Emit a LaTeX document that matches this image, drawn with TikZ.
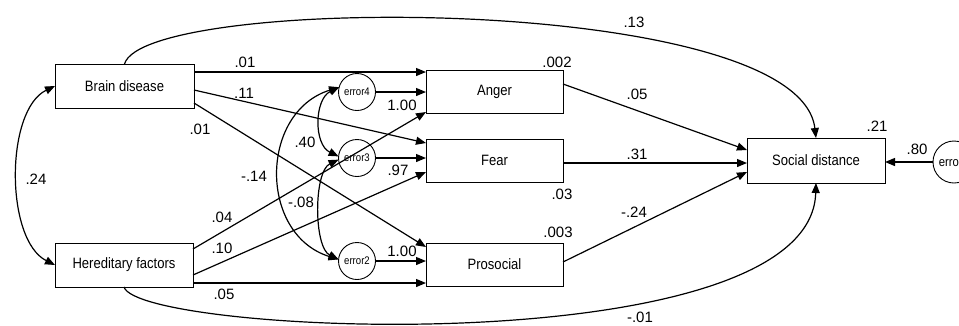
\documentclass[tikz,border=0pt]{standalone}
\usepackage{fontspec}
\setmainfont{Liberation Sans}
\newfontfamily\narrowfont[FakeStretch=0.87]{Liberation Sans}
\usetikzlibrary{arrows.meta}
\begin{document}
\begin{tikzpicture}[x=1pt,y=-1pt,
  box/.style={draw, line width=0.9pt, rectangle, inner sep=0pt, outer sep=0pt,
    font=\narrowfont\fontsize{15}{17}\selectfont},
  err/.style={draw, circle, line width=0.9pt, minimum size=37pt, inner sep=0pt, outer sep=0pt,
    font=\narrowfont\fontsize{11}{12}\selectfont},
  arr/.style={line width=1.2pt, -{Triangle[length=10pt,width=8pt]}},
  dbl/.style={line width=1.2pt, {Triangle[length=10pt,width=8pt]}-{Triangle[length=10pt,width=8pt]}},
  lbl/.style={font=\fontsize{15}{17}\selectfont, inner sep=0pt}]
\useasboundingbox (0,0) rectangle (959,325);
\fill[white] (0,0) rectangle (959,325);

% boxes
\node[box, minimum width=139pt, minimum height=44pt] (brain) at (124.5,86) {Brain disease};
\node[box, minimum width=138pt, minimum height=44pt] (hered) at (124,265) {Hereditary factors};
\node[box, minimum width=137pt, minimum height=43pt] (anger) at (494.5,91.5) {Anger};
\node[box, minimum width=137pt, minimum height=43pt] (fear) at (494.5,160.5) {Fear};
\node[box, minimum width=137pt, minimum height=43pt] (pro) at (494.5,264.5) {Prosocial};
\node[box, minimum width=138pt, minimum height=45pt] (soc) at (816,160.5) {Social distance};

% error circles
\node[err] (e4) at (357,92) {error4};
\node[err] (e3) at (357,158) {error3};
\node[err] (e2) at (357,261) {error2};
\node[err, minimum size=42pt, font=\narrowfont\fontsize{13}{14}\selectfont] (e1) at (954,162) {error1};

% paths into mediators
\draw[arr] ([yshift=14pt]brain.east) -- ([yshift=14pt]brain.east -| anger.west);
\draw[arr] ([yshift=-4pt]brain.east) -- ([yshift=17.5pt]fear.west);
\draw[arr] ([yshift=-17pt]brain.east) -- ([yshift=17.5pt]pro.west);
\draw[arr] ([yshift=16pt]hered.east) -- ([yshift=-20.5pt]anger.west);
\draw[arr] ([yshift=-10pt]hered.east) -- ([yshift=-11.5pt]fear.west);
\draw[arr] ([yshift=-18pt]hered.east) -- ([yshift=-18pt]hered.east -| pro.west);
\draw[arr] (e4.east) -- (e4.east -| anger.west);
\draw[arr] (e3.east) -- (e3.east -| fear.west);
\draw[arr] (e2.east) -- (e2.east -| pro.west);

% paths into outcome
\draw[arr] ([yshift=7.5pt]anger.east) -- ([yshift=10.5pt]soc.west);
\draw[arr] ([yshift=-2.5pt]fear.east) -- ([yshift=-2.5pt]fear.east -| soc.west);
\draw[arr] ([yshift=2.5pt]pro.east) -- ([yshift=-11.5pt]soc.west);
\draw[arr] (e1.west) -- (e1.west -| soc.east);

% direct curved paths
\draw[arr] (brain.north) .. controls +(20,-70) and +(-17,-145) .. (soc.north);
\draw[arr] (hered.south) .. controls +(15,48) and +(-5,182) .. (soc.south);

% covariances
\draw[dbl] (brain.west) .. controls +(-50,24) and +(-50,-25) .. (hered.west);
\draw[dbl] (e4.165) .. controls +(-25,12) and +(-25,-12) .. (e3.175);
\draw[dbl] (e3.185) .. controls +(-25,12) and +(-25,-12) .. (e2.175);
\draw[dbl] (e4.165) .. controls +(-80,25) and +(-80,-25) .. (e2.175);

% labels
\node[lbl] (l1) at (245,62) {.01};
\node[lbl] (l2) at (244,93) {.11};
\node[lbl] (l3) at (200,129) {.01};
\node[lbl] (l4) at (305,142) {.40};
\node[lbl] (l5) at (402,105) {1.00};
\node[lbl] (l6) at (398,170) {.97};
\node[lbl] (l7) at (254,176) {-.14};
\node[lbl] (l8) at (301,202) {-.08};
\node[lbl] (l9) at (222,217) {.04};
\node[lbl] (l10) at (222,248) {.10};
\node[lbl] (l11) at (402,251) {1.00};
\node[lbl] (l12) at (224,294) {.05};
\node[lbl] (l13) at (36,179) {.24};
\node[lbl] (l14) at (557,62) {.002};
\node[lbl] (l15) at (637,94) {.05};
\node[lbl] (l16) at (634,22) {.13};
\node[lbl] (l17) at (877,126) {.21};
\node[lbl] (l18) at (637,154) {.31};
\node[lbl] (l19) at (917,149) {.80};
\node[lbl] (l20) at (562,194) {.03};
\node[lbl] (l21) at (558,232) {.003};
\node[lbl] (l22) at (634,212) {-.24};
\node[lbl] (l23) at (640,317) {-.01};
\end{tikzpicture}
\end{document}
